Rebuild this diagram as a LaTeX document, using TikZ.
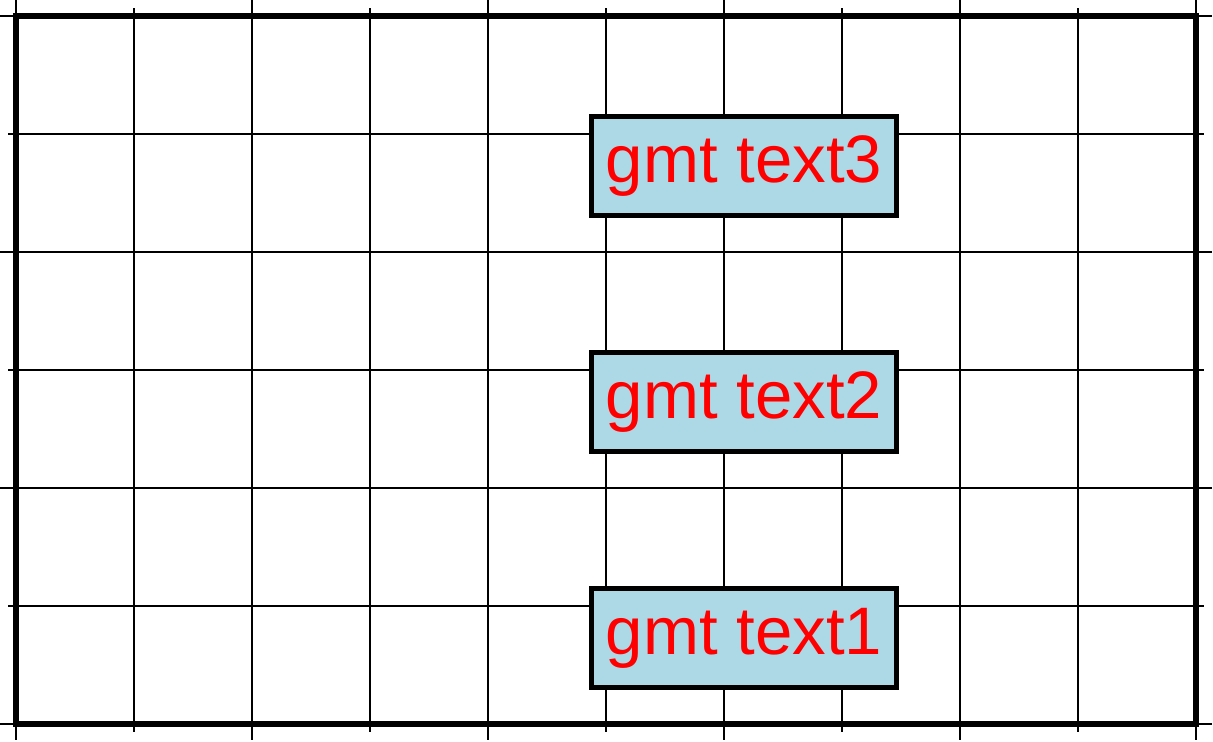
\documentclass[tikz,border=0pt]{standalone}
\usepackage{fontspec}
\setmainfont{Liberation Sans}
\usetikzlibrary{positioning}
\definecolor{boxblue}{RGB}{173,216,230}
\definecolor{labelred}{RGB}{255,0,0}

\begin{document}
\begin{tikzpicture}[x=1cm,y=1cm,
  gridline/.style={line width=0.36pt},
  frameline/.style={line width=1.45pt},
  tickline/.style={line width=0.5pt},
  labelbox/.style={draw,line width=1.1pt,fill=boxblue,text=labelred,font=\fontsize{16.2}{19}\selectfont,inner xsep=0.12cm,minimum height=0.84cm,anchor=west}]
\useasboundingbox (-0.1356,-0.1441) rectangle (10.144,6.136);
% grid and frame
\draw[gridline] (0,0) grid (10,6);
\foreach \x in {0,2,...,10}
  \draw[tickline] (\x,0) -- ++(0,-0.136) (\x,6) -- ++(0,0.136);
\foreach \x in {1,3,...,9}
  \draw[tickline] (\x,0) -- ++(0,-0.07) (\x,6) -- ++(0,0.07);
\foreach \y in {0,2,...,6}
  \draw[tickline] (0,\y) -- ++(-0.136,0) (10,\y) -- ++(0.136,0);
\foreach \y in {1,3,5}
  \draw[tickline] (0,\y) -- ++(-0.07,0) (10,\y) -- ++(0.07,0);
\draw[frameline] (0,0) rectangle (10,6);
% labels
\node[labelbox] (text3) at (4.86,4.73) {gmt text3};
\node[labelbox] (text2) at (4.86,2.73) {gmt text2};
\node[labelbox] (text1) at (4.86,0.73) {gmt text1};
\end{tikzpicture}
\end{document}
